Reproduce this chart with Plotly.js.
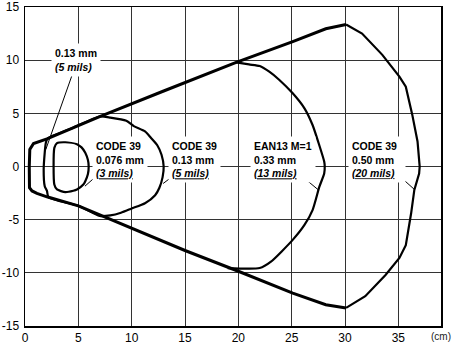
<!DOCTYPE html>
<html>
<head>
<meta charset="utf-8">
<script src="https://cdn.plot.ly/plotly-3.0.1.min.js"></script>
<style>html,body{margin:0;padding:0;background:#fff}#chart{width:452px;height:344px}</style>
</head>
<body>
<div id="chart"></div>
<script>
// Shared outer envelope (left cap, upper and lower edges), cm
const envX = [30.1, 28.2, 25.1, 19.8, 13.0, 7.0, 2.06, 1.12, 0.8, 0.45, 0.4, 0.42, 0.66, 1.12, 2.06, 5.0, 10.0, 15.0, 20.0, 25.1, 28.2, 30.1];
const envY = [13.36, 12.95, 11.75, 9.8, 7.1, 4.7, 2.6, 2.3, 2.16, 1.6, 0, -2.0, -2.3, -2.53, -2.85, -3.7, -5.8, -7.9, -9.85, -11.9, -13.0, -13.3];

// CODE 39 0.50 mm (20 mils) - far cap
const d50X = [30.1, 31.6, 33.5, 35.1, 35.7, 36.3, 36.8, 37.0, 36.95, 36.5, 36.2, 35.7, 35.1, 33.8, 31.9, 30.1];
const d50Y = [13.36, 12.5, 10.5, 8.45, 7.5, 4.9, 2.35, 0, -0.66, -2.2, -4.4, -7.4, -8.6, -10.2, -12.2, -13.3];

// EAN13 M=1 0.33 mm (13 mils) - far cap
const ean33X = [19.8, 21.0, 22.0, 22.9, 23.85, 25.1, 26.2, 26.96, 27.58, 28.05, 28.1, 28.05, 27.6, 26.96, 26.2, 25.1, 23.06, 22.0, 19.0];
const ean33Y = [9.8, 9.6, 9.45, 8.92, 8.14, 6.88, 5.47, 3.9, 2.03, 0.47, 0, -0.66, -1.9, -4.1, -5.5, -6.9, -8.95, -9.55, -9.55];

// CODE 39 0.13 mm (5 mils)
const c13X = [2.1, 4.5, 7.0, 8.0, 9.5, 10.2, 11.25, 11.8, 12.4, 12.8, 13.0, 12.9, 12.6, 12.2, 11.25, 10.0, 9.0, 8.0, 7.0, 5.0, 2.2, 2.06, 1.85, 1.75, 1.85, 1.95, 2.1];
const c13Y = [2.62, 3.65, 4.7, 4.6, 4.3, 3.8, 3.3, 2.7, 2.0, 1.1, 0, -1.0, -2.0, -2.7, -3.45, -3.95, -4.35, -4.6, -4.65, -3.7, -2.9, -2.3, -1.85, -0.3, 1.3, 2.2, 2.62];

// CODE 39 0.076 mm (3 mils)
const c076X = [2.75, 3.0, 3.78, 4.87, 5.3, 5.65, 5.9, 5.97, 5.9, 5.65, 5.47, 4.87, 4.53, 3.78, 3.0, 2.75, 2.75];
const c076Y = [1.75, 2.2, 2.28, 2.1, 1.8, 1.29, 0.6, 0, -0.7, -1.38, -1.7, -2.16, -2.28, -2.41, -2.16, -1.69, 1.75];

// Axis ticks
const xTicks = [0, 5, 10, 15, 20, 25, 30, 35];
const yTicks = [-15, -10, -5, 0, 5, 10, 15];

// Label texts and anchors
const labelText = [
  '<b>CODE 39<br>0.076 mm<br><u><i>(3 mils)</i></u></b>',
  '<b>CODE 39<br>0.13 mm<br><u><i>(5 mils)</i></u></b>',
  '<b>EAN13 M=1<br>0.33 mm<br><u><i>(13 mils)</i></u></b>',
  '<b>CODE 39<br>0.50 mm<br><u><i>(20 mils)</i></u></b>',
  '<b>0.13 mm<br><i>(5 mils)</i></b>'
];
const labelX = [6.25, 13.4, 21.05, 30.25, 2.45];
const labelY = [0.63, 0.63, 0.63, 0.63, 10.05];
const labelW = [null, null, null, 50, null];

// Leader lines (label -> zone)
const leaderPaths = [
  [[6.5, -1.07], [5.62, -1.85]],
  [[13.65, -1.07], [12.95, -1.6]],
  [[25.3, -1.07], [26.15, -1.07], [27.5, -2.2]],
  [[34.4, -1.07], [35.3, -1.07], [36.55, -2.2]],
  [[4.45, 8.7], [1.95, 1.6]]
];

const line = (x, y, w, shape) => ({
  x: x, y: y, type: 'scatter', mode: 'lines', hoverinfo: 'skip',
  line: {color: '#000', width: w, shape: shape || 'linear', smoothing: 0.6}
});

const traces = [
  line(envX, envY, 3),
  line(d50X, d50Y, 2.2),
  line(ean33X, ean33Y, 2.2, 'spline'),
  line(c13X, c13Y, 2.2, 'spline'),
  line(c076X, c076Y, 2.2, 'spline')
];

const font = 'Arial, "Liberation Sans", sans-serif';

const annotations = labelText.map((t, i) => {
  const a = {
    x: labelX[i], y: labelY[i], xref: 'x', yref: 'y', text: t, showarrow: false,
    xanchor: 'left', yanchor: 'middle', align: 'left',
    bgcolor: '#fff', borderpad: 3,
    font: {family: font, size: 10.5, color: '#000'}
  };
  if (labelW[i]) a.width = labelW[i];
  return a;
});
annotations.push({
  x: 1.0, y: -0.032, xref: 'paper', yref: 'paper', text: '(cm)', showarrow: false,
  xanchor: 'center', yanchor: 'middle', font: {family: font, size: 10, color: '#222'}
});

const shapes = leaderPaths.map(p => ({
  type: 'path', xref: 'x', yref: 'y',
  path: p.map((pt, i) => (i ? 'L' : 'M') + pt[0] + ',' + pt[1]).join(' '),
  line: {color: '#000', width: 1}
}));

const axisBase = {
  showgrid: true, gridcolor: '#333', gridwidth: 1,
  zeroline: false, showline: true, mirror: true, linecolor: '#000', linewidth: 1.5,
  ticks: '', tickfont: {family: font, size: 12, color: '#000'}, fixedrange: true,
  ticklabeloverflow: 'allow'
};

const layout = {
  width: 452, height: 344,
  margin: {l: 25, r: 11, t: 7, b: 18},
  paper_bgcolor: '#fff', plot_bgcolor: '#fff',
  showlegend: false,
  xaxis: Object.assign({}, axisBase, {range: [0, 39], tickvals: xTicks, ticktext: xTicks.map(String)}),
  yaxis: Object.assign({}, axisBase, {range: [-15, 15], tickvals: yTicks, ticktext: yTicks.map(String), ticklabelstandoff: 2}),
  annotations: annotations,
  shapes: shapes
};

Plotly.newPlot('chart', traces, layout, {displayModeBar: false, staticPlot: true});
</script>
</body>
</html>
